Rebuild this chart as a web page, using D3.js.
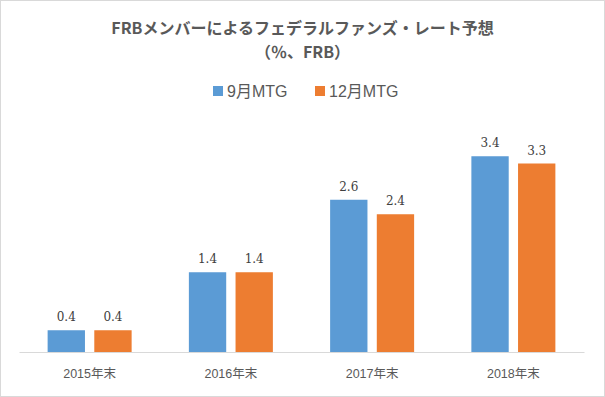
<!DOCTYPE html>
<html>
<head>
<meta charset="utf-8">
<script src="https://cdn.jsdelivr.net/npm/d3@7"></script>
<style>
body{margin:0;background:#fff;}
svg{display:block;}
</style>
</head>
<body>
<svg id="chart" width="605" height="397"></svg>
<script>
// FRB FF rate projections (median, %)
var categories = ["2015年末","2016年末","2017年末","2018年末"];
var seriesNames = ["9月MTG","12月MTG"];
var septValues = [0.375,1.375,2.625,3.375];
var decValues = [0.375,1.375,2.375,3.25];
var colors = ["#5B9BD5","#ED7D31"];

var W = 605, H = 397;
var svg = d3.select("#chart");
var cjk = "'Liberation Sans','Noto Sans CJK JP',sans-serif";

svg.append("rect")
	.attr("x",0.5).attr("y",0.5)
	.attr("width",W-1).attr("height",H-1)
	.attr("fill","#fff").attr("stroke","#d9d9d9");

var title = svg.append("text")
	.attr("x",W/2).attr("text-anchor","middle")
	.attr("font-family","'Noto Sans CJK JP',sans-serif")
	.attr("font-weight","bold").attr("font-size",16)
	.attr("fill","#595959");
title.append("tspan").attr("x",W/2).attr("y",34).text("FRBメンバーによるフェデラルファンズ・レート予想");
title.append("tspan").attr("x",W/2).attr("y",58).text("（％、FRB）");

var x0 = d3.scaleBand().domain(categories).range([19,584]);
var x1 = d3.scaleBand().domain(seriesNames).range([x0.bandwidth()/2-42,x0.bandwidth()/2+42]).paddingInner(0.2);
var y = d3.scaleLinear().domain([0,4]).range([352,120]);

var rows = categories.map(function(c,i){
	return {cat:c, vals:[septValues[i],decValues[i]]};
});

var groups = svg.selectAll("g.cat").data(rows).enter().append("g")
	.attr("class","cat")
	.attr("transform",function(d){ return "translate("+x0(d.cat)+",0)"; });

groups.selectAll("rect").data(function(d){
	return d.vals.map(function(v,j){ return {s:seriesNames[j],v:v,j:j}; });
}).enter().append("rect")
	.attr("x",function(d){ return x1(d.s); })
	.attr("y",function(d){ return y(d.v); })
	.attr("width",x1.bandwidth())
	.attr("height",function(d){ return y(0)-y(d.v); })
	.attr("fill",function(d){ return colors[d.j]; });

groups.selectAll("text.lbl").data(function(d){
	return d.vals.map(function(v,j){ return {s:seriesNames[j],v:v}; });
}).enter().append("text")
	.attr("class","lbl")
	.attr("x",function(d){ return x1(d.s)+x1.bandwidth()/2; })
	.attr("y",function(d){ return y(d.v)-9; })
	.attr("text-anchor","middle")
	.attr("font-family","'DejaVu Serif',serif")
	.attr("font-size",12)
	.attr("fill","#404040")
	.text(function(d){ return d3.format(".1f")(d.v); });

var xAxis = svg.append("g").attr("transform","translate(0,"+y(0)+")")
	.call(d3.axisBottom(x0).tickSize(0).tickPadding(17));
xAxis.select(".domain").attr("stroke","#d9d9d9");
xAxis.selectAll("text")
	.attr("font-family",cjk).attr("font-size",12.5).attr("fill","#595959");

var legend = svg.append("g").attr("transform","translate(0,91)");
var legX = [213,315];
seriesNames.forEach(function(s,i){
	legend.append("rect").attr("x",legX[i]).attr("y",-5).attr("width",10).attr("height",10).attr("fill",colors[i]);
	legend.append("text").attr("x",legX[i]+14).attr("y",6)
		.attr("font-family",cjk).attr("font-size",16).attr("fill","#595959").text(s);
});
</script>
</body>
</html>
